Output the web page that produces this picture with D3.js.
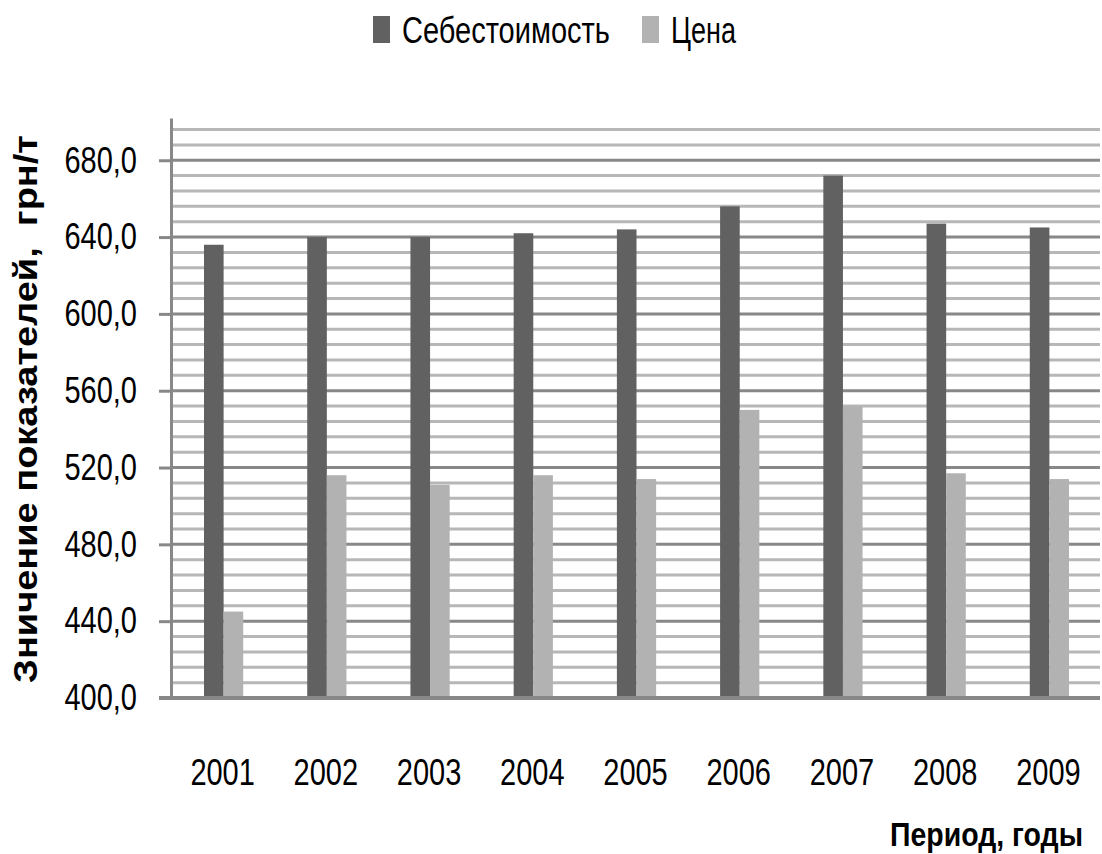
<!DOCTYPE html>
<html>
<head>
<meta charset="utf-8">
<script src="https://cdn.jsdelivr.net/npm/d3@7"></script>
<style>
  body { margin: 0; background: #fff; }
  text { font-family: "Liberation Sans", Arial, sans-serif; fill: #000; }
</style>
</head>
<body>
<div id="chart"></div>
<script>
// данные
var years = ["2001", "2002", "2003", "2004", "2005", "2006", "2007", "2008", "2009"];
var cost = [636, 640, 640, 642, 644, 656, 672, 647, 645];      // Себестоимость
var price = [445, 516, 511, 516, 514, 550, 552, 517, 514];     // Цена
var seriesNames = ["Себестоимость", "Цена"];
var yTicks = [400, 440, 480, 520, 560, 600, 640, 680];
var minorTicks = d3.range(408, 700, 8).filter(function (v) { return v % 40 !== 0; });

var width = 1102, height = 854;
var plotLeft = 171, plotRight = 1100, plotBottom = 698, plotTop = 118;
var stretch = 1.27;   // the picture is stretched vertically

var svg = d3.select("#chart").append("svg")
    .attr("width", width)
    .attr("height", height);

var y = d3.scaleLinear().domain([400, 702]).range([plotBottom, plotTop]);
var x = d3.scaleBand().domain(years).range([plotLeft, plotRight]);
var bw = x.bandwidth() * 0.19;

// минорная сетка
svg.append("g").selectAll("line")
    .data(minorTicks)
    .enter().append("line")
    .attr("x1", plotLeft + 1).attr("x2", plotRight)
    .attr("y1", function (d) { return y(d); })
    .attr("y2", function (d) { return y(d); })
    .attr("stroke", "#b7b7b7")
    .attr("stroke-width", 3);

// основная сетка
svg.append("g").selectAll("line")
    .data(yTicks.slice(1))
    .enter().append("line")
    .attr("x1", plotLeft).attr("x2", plotRight)
    .attr("y1", function (d) { return y(d); })
    .attr("y2", function (d) { return y(d); })
    .attr("stroke", "#888888")
    .attr("stroke-width", 3);

// столбцы
var colors = ["#616161", "#b2b2b2"];
[cost, price].forEach(function (vals, i) {
    svg.append("g").selectAll("rect")
        .data(vals)
        .enter().append("rect")
        .attr("x", function (d, j) { return x(years[j]) + x.bandwidth() / 2 + 1 - bw + i * bw; })
        .attr("width", bw)
        .attr("y", function (d) { return y(d); })
        .attr("height", function (d) { return plotBottom - y(d); })
        .attr("fill", colors[i]);
});

// ось Y
var yAxis = svg.append("g")
    .attr("transform", "translate(" + plotLeft + ",0)")
    .call(d3.axisLeft(y)
        .tickValues(yTicks)
        .tickSizeInner(12)
        .tickSizeOuter(0)
        .tickPadding(22)
        .tickFormat(function (d) { return d.toFixed(1).replace(".", ","); }));
yAxis.select(".domain").attr("stroke", "#888888").attr("stroke-width", 3);
yAxis.selectAll(".tick line").attr("stroke", "#888888").attr("stroke-width", 3);
yAxis.selectAll(".tick text")
    .attr("font-size", "29px")
    .attr("font-family", "Liberation Sans, Arial, sans-serif")
    .attr("fill", "#000")
    .attr("dy", "0.32em")
    .attr("transform", "scale(1," + stretch + ")");

// ось X
svg.append("line")
    .attr("x1", plotLeft - 12).attr("x2", plotRight)
    .attr("y1", plotBottom).attr("y2", plotBottom)
    .attr("stroke", "#888888")
    .attr("stroke-width", 4);

svg.append("g").selectAll("g")
    .data(years)
    .enter().append("g")
    .attr("transform", function (d) { return "translate(" + (x(d) + x.bandwidth() / 2) + ",785) scale(1," + stretch + ")"; })
    .append("text")
    .attr("text-anchor", "middle")
    .attr("font-size", "29px")
    .text(function (d) { return d; });

// легенда
var legendX = [373, 642];
var legendW = [208, 65];
seriesNames.forEach(function (name, i) {
    svg.append("rect")
        .attr("x", legendX[i]).attr("y", 16)
        .attr("width", 17).attr("height", 27)
        .attr("fill", colors[i]);
    var g = svg.append("g");
    var t = g.append("text")
        .attr("font-size", "29px")
        .text(name);
    var k = legendW[i] / t.node().getComputedTextLength();
    g.attr("transform", "translate(" + (legendX[i] + 29) + ",43) scale(" + k + "," + stretch + ")");
});

// подписи осей
var xt = svg.append("g");
var xTitle = xt.append("text")
    .attr("font-size", "29px")
    .attr("font-weight", "bold")
    .attr("text-anchor", "end")
    .text("Период, годы");
var kx = 193 / xTitle.node().getComputedTextLength();
xt.attr("transform", "translate(1083,846) scale(" + kx + ",1.15)");

var yt = svg.append("g");
var yTitle = yt.append("text")
    .attr("font-size", "33px")
    .attr("font-weight", "bold")
    .attr("text-anchor", "middle")
    .attr("xml:space", "preserve")
    .style("white-space", "pre")
    .text("Зничение показателей,  грн/т");
var ky = 548 / yTitle.node().getComputedTextLength();
yt.attr("transform", "translate(37,409) rotate(-90) scale(" + ky + ",1)");
</script>
</body>
</html>
